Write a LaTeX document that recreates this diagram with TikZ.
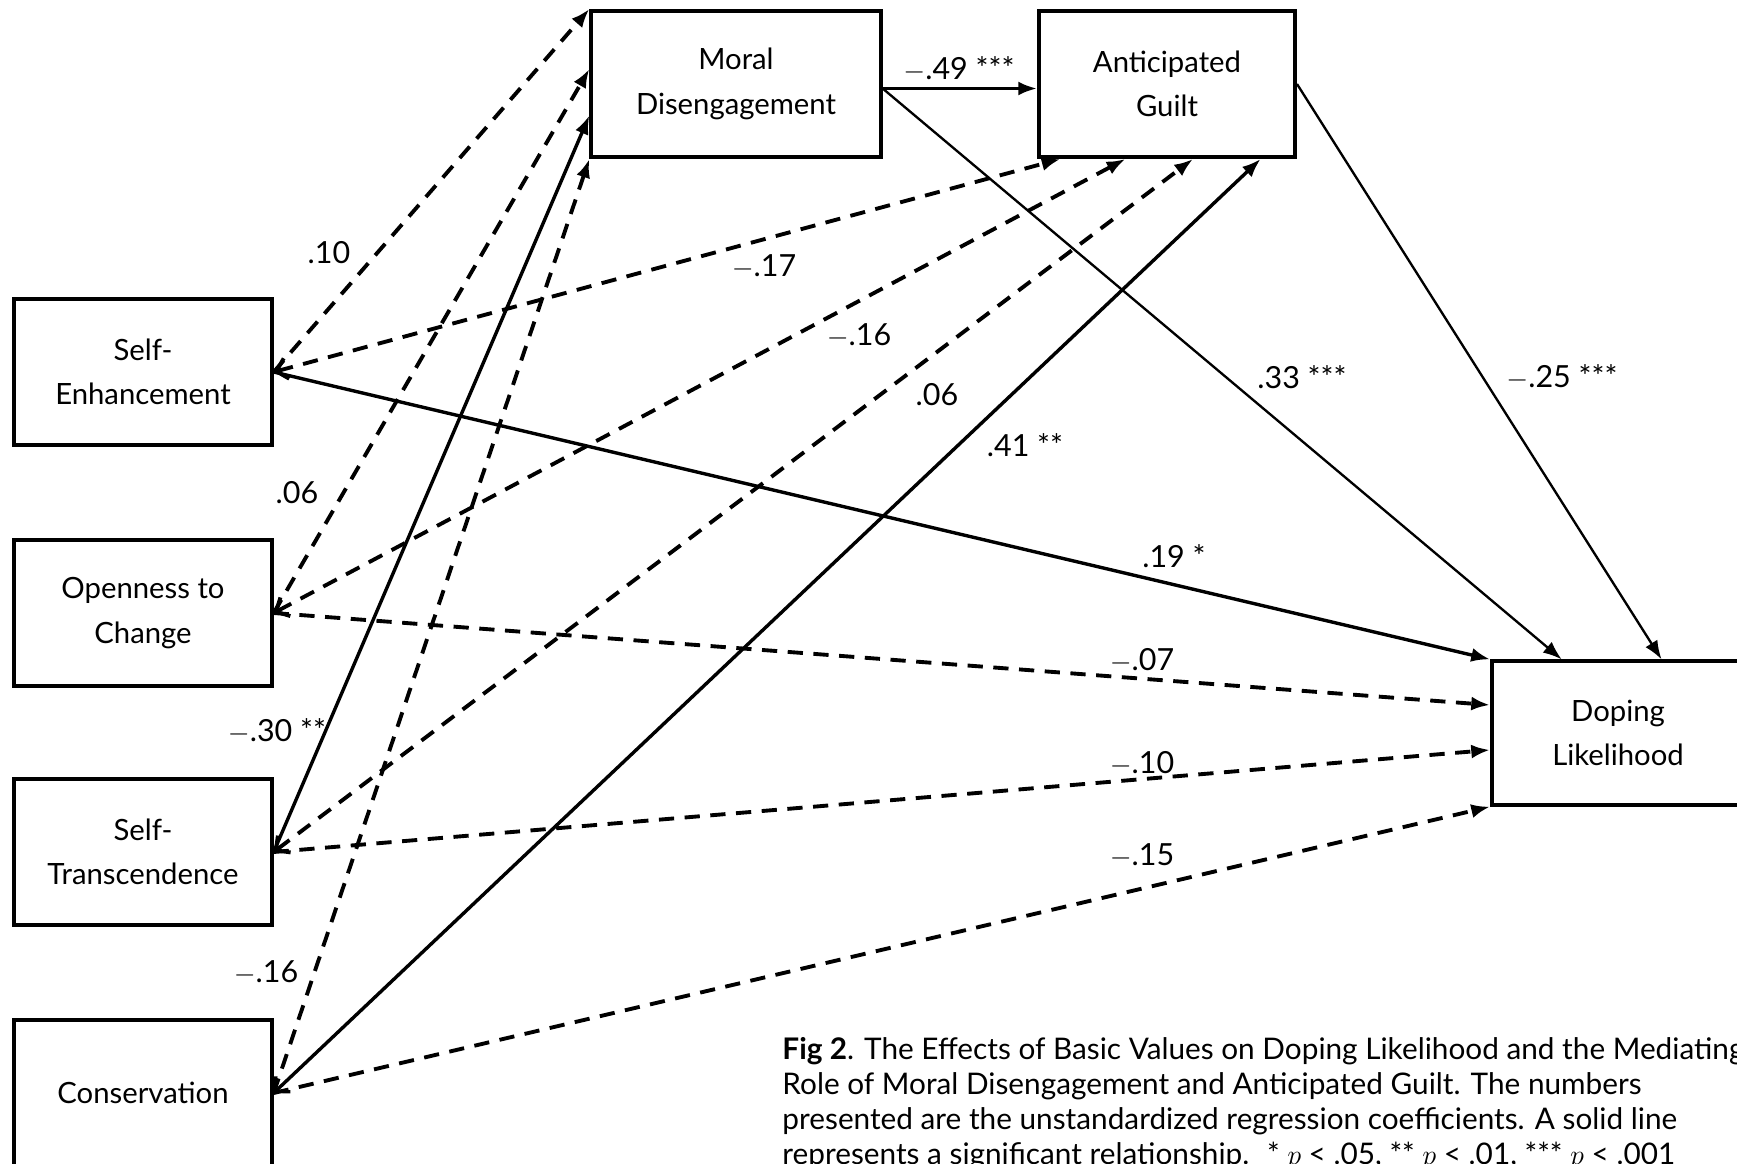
\documentclass[tikz,border=0pt]{standalone}
\usepackage{fontspec}
\setmainfont{Lato}
\usetikzlibrary{arrows.meta,calc,positioning}
\tikzset{valbox/.style={shape=rectangle, draw, line width=1.7pt, align=center,
    inner sep=0pt, minimum width=3.86cm, minimum height=2.19cm,
    font=\fontsize{12.5}{19}\selectfont}}
\tikzset{coef/.style={inner sep=1pt, font=\fontsize{13}{16}\selectfont}}
\tikzset{capt/.style={align=left, inner sep=0pt, font=\fontsize{12.7}{15}\selectfont}}
\tikzset{sig/.style={line width=1.45pt}}
\tikzset{sigthin/.style={line width=1pt}}
\tikzset{ns/.style={line width=1.65pt, dash pattern=on 6.5pt off 4.5pt}}
\tikzset{vtip/.style={arrows={Straight Barb[length=4.5pt,width=9pt]-Latex[length=8pt,width=6pt]}}}

\begin{document}
\begin{tikzpicture}[x=0.015cm, y=-0.015cm, >={Latex[length=8pt,width=6pt]}]
    \useasboundingbox (0,0) rectangle (1737,1164);
    \clip (0,0) rectangle (1737,1164);
    % basic values
    \node[valbox] (se) at (143,372) {Self-\\Enhancement};
    \node[valbox] (oc) at (143,613) {Openness to\\Change};
    \node[valbox] (st) at (143,852) {Self-\\Transcendence};
    \node[valbox] (cons) at (143,1093) {Conservation};
    % mediators and outcome
    \node[valbox, minimum width=4.34cm] (md) at (736,84) {Moral\\Disengagement};
    \node[valbox, minimum width=3.84cm] (ag) at (1167,84) {Anticipated\\Guilt};
    \node[valbox, minimum width=3.78cm, minimum height=2.15cm] (dl) at (1618,733) {Doping\\Likelihood};
    % entry points on the box borders
    \coordinate (md in2) at ($(md.north west)!.40!(md.south west)$);
    \coordinate (md in3) at ($(md.north west)!.71!(md.south west)$);
    \coordinate (md out) at ($(md.north east)!.53!(md.south east)$);
    \coordinate (ag in1) at ($(ag.south west)!.09!(ag.south east)$);
    \coordinate (ag in2) at ($(ag.south west)!.34!(ag.south east)$);
    \coordinate (ag in3) at ($(ag.south west)!.60!(ag.south east)$);
    \coordinate (ag in4) at ($(ag.south west)!.86!(ag.south east)$);
    \coordinate (ag in0) at (md out -| ag.west);
    \coordinate (dl in2) at ($(dl.north west)!.31!(dl.south west)$);
    \coordinate (dl in3) at ($(dl.north west)!.615!(dl.south west)$);
    \coordinate (dl top1) at ($(dl.north west)!.28!(dl.north east)$);
    \coordinate (dl top2) at ($(dl.north west)!.67!(dl.north east)$);
    % paths to moral disengagement
    \draw[ns, ->] (se.east) -- (md.north west);
    \draw[ns, ->] (oc.east) -- (md in2);
    \draw[sig, ->] (st.east) -- (md in3);
    \draw[ns, ->] (cons.east) -- (md.south west);
    % paths to anticipated guilt
    \draw[ns, vtip] (se.east) -- (ag in1);
    \draw[ns, vtip] (oc.east) -- (ag in2);
    \draw[ns, vtip] (st.east) -- (ag in3);
    \draw[sig, vtip] (cons.east) -- (ag in4);
    \draw[sig, ->] (md out) -- (ag in0);
    % paths to doping likelihood
    \draw[sig, ->] (se.east) -- (dl.north west);
    \draw[ns, ->] (oc.east) -- (dl in2);
    \draw[ns, ->] (st.east) -- (dl in3);
    \draw[ns, ->] (cons.east) -- (dl.south west);
    \draw[sigthin, ->] (md out) -- (dl top1);
    \draw[sigthin, ->] (ag.east) -- (dl top2);
    % coefficients
    \node[coef] (c10) at (329,253) {.10};
    \node[coef] (c06a) at (297,493) {.06};
    \node[coef] (c30) at (277,731) {$-$.30 **};
    \node[coef] (c16a) at (266,973) {$-$.16};
    \node[coef] (c17) at (764,267) {$-$.17};
    \node[coef] (c16b) at (859,336) {$-$.16};
    \node[coef] (c06b) at (937,395) {.06};
    \node[coef] (c41) at (1025,445) {.41 **};
    \node[coef] (c49) at (959,69) {$-$.49 ***};
    \node[coef] (c33) at (1302,377) {.33 ***};
    \node[coef] (c25) at (1562,377) {$-$.25 ***};
    \node[coef] (c19) at (1174,556) {.19 *};
    \node[coef] (c07) at (1142,661) {$-$.07};
    \node[coef] (c10b) at (1142,764) {$-$.10};
    \node[coef] (c15) at (1142,856) {$-$.15};
    % caption
    \node[capt, anchor=north west] (note) at (782,1037) {\textbf{Fig 2}. The Effects of Basic Values on Doping Likelihood and the Mediating\\
      Role of Moral Disengagement and Anticipated Guilt. The numbers\\
      presented are the unstandardized regression coefficients. A solid line\\
      represents a significant relationship.~ * $p$ < .05, ** $p$ < .01, *** $p$ < .001};
\end{tikzpicture}
\end{document}
